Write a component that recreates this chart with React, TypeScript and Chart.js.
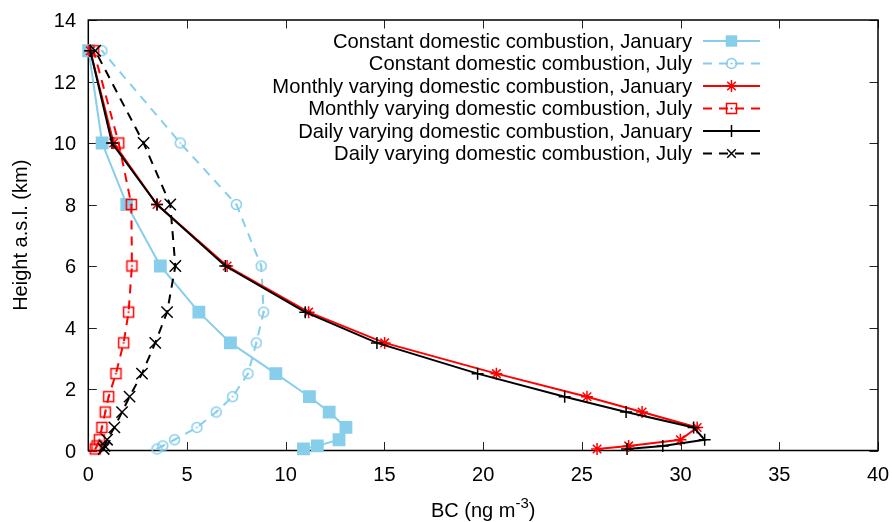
import React, { useEffect, useRef } from 'react';
import { Chart, registerables } from 'chart.js';

Chart.register(...registerables);

// ---- data ----
const heights = [0.05, 0.15, 0.35, 0.75, 1.25, 1.75, 2.5, 3.5, 4.5, 6, 8, 10, 13];
const constantJanuary = [10.9, 11.6, 12.7, 13.05, 12.2, 11.2, 9.5, 7.2, 5.6, 3.65, 1.95, 0.7, 0.02];
const constantJuly = [3.48, 3.77, 4.37, 5.5, 6.48, 7.31, 8.09, 8.51, 8.88, 8.76, 7.5, 4.66, 0.69];
const monthlyJanuary = [25.77, 27.37, 29.99, 30.84, 28.05, 25.26, 20.67, 15.01, 11.16, 7.03, 3.48, 1.28, 0.1];
const monthlyJuly = [0.35, 0.44, 0.56, 0.69, 0.86, 1.03, 1.4, 1.79, 2.04, 2.21, 2.18, 1.54, 0.27];
const dailyJanuary = [27.29, 29.1, 31.22, 30.66, 27.24, 24.13, 19.72, 14.62, 10.99, 6.94, 3.48, 1.2, 0.1];
const dailyJuly = [0.78, 0.83, 0.95, 1.32, 1.71, 2.09, 2.72, 3.39, 3.99, 4.41, 4.15, 2.8, 0.35];

const seriesLabels = [
  'Constant domestic combustion, January',
  'Constant domestic combustion, July',
  'Monthly varying domestic combustion, January',
  'Monthly varying domestic combustion, July',
  'Daily varying domestic combustion, January',
  'Daily varying domestic combustion, July',
];

const xTickValues = [0, 5, 10, 15, 20, 25, 30, 35, 40];
const yTickValues = [0, 2, 4, 6, 8, 10, 12, 14];
const xTitle = 'BC (ng m';
const xTitleSup = '-3';
const xTitleEnd = ')';
const yTitle = 'Height a.s.l. (km)';

// ---- styles ----
const FONT = '"Liberation Sans", Arial, Helvetica, sans-serif';
const SKY = '#87CEEB';
const RED = '#FF0000';
const BLACK = '#000000';
const DASH = [9, 7];

function makeMarker(kind: string, color: string): HTMLCanvasElement {
  const c = document.createElement('canvas');
  c.width = 15;
  c.height = 15;
  const g = c.getContext('2d')!;
  g.strokeStyle = color;
  g.fillStyle = color;
  g.lineWidth = 1.5;
  if (kind === 'circleDot') {
    g.beginPath();
    g.arc(7.5, 7.5, 5, 0, Math.PI * 2);
    g.stroke();
  } else {
    g.strokeRect(2.5, 2.5, 10, 10);
  }
  g.beginPath();
  g.arc(7.5, 7.5, 1.1, 0, Math.PI * 2);
  g.fill();
  return c;
}

type Ser = { data: number[]; color: string; dashed: boolean; style: string };

function buildPoints(xs: number[]) {
  return xs.map((x, i) => ({ x, y: heights[i] }));
}

function drawLegendMarker(ctx: CanvasRenderingContext2D, s: Ser, x: number, y: number, img: HTMLCanvasElement | null) {
  ctx.save();
  ctx.setLineDash([]);
  ctx.strokeStyle = s.color;
  ctx.fillStyle = s.color;
  ctx.lineWidth = 1.5;
  if (img) {
    ctx.drawImage(img, x - img.width / 2, y - img.height / 2);
  } else if (s.style === 'rect') {
    ctx.fillRect(x - 5.7, y - 5.7, 11.4, 11.4);
  } else {
    const r = 6;
    ctx.beginPath();
    if (s.style === 'cross' || s.style === 'star') {
      ctx.moveTo(x - r, y); ctx.lineTo(x + r, y);
      ctx.moveTo(x, y - r); ctx.lineTo(x, y + r);
    }
    if (s.style === 'crossRot' || s.style === 'star') {
      const d = r * Math.SQRT1_2;
      ctx.moveTo(x - d, y - d); ctx.lineTo(x + d, y + d);
      ctx.moveTo(x - d, y + d); ctx.lineTo(x + d, y - d);
    }
    ctx.stroke();
  }
  ctx.restore();
}

export default function App() {
  const ref = useRef<HTMLCanvasElement | null>(null);

  useEffect(() => {
    if (!ref.current) return;
    const circleDot = makeMarker('circleDot', SKY);
    const squareDot = makeMarker('squareDot', RED);

    const series: Ser[] = [
      { data: constantJanuary, color: SKY, dashed: false, style: 'rect' },
      { data: constantJuly, color: SKY, dashed: true, style: 'circleDot' },
      { data: monthlyJanuary, color: RED, dashed: false, style: 'star' },
      { data: monthlyJuly, color: RED, dashed: true, style: 'squareDot' },
      { data: dailyJanuary, color: BLACK, dashed: false, style: 'cross' },
      { data: dailyJuly, color: BLACK, dashed: true, style: 'crossRot' },
    ];
    const imgFor = (s: Ser) => (s.style === 'circleDot' ? circleDot : s.style === 'squareDot' ? squareDot : null);

    const datasets = series.map((s, i) => {
      const img = imgFor(s);
      return {
        label: seriesLabels[i],
        data: buildPoints(s.data),
        showLine: true,
        borderColor: s.color,
        backgroundColor: s.color,
        borderWidth: 2,
        borderDash: s.dashed ? DASH : [],
        pointStyle: (img || s.style) as any,
        pointRadius: s.style === 'rect' ? 8 : s.style === 'crossRot' ? 8 : 6,
        pointBorderWidth: 1.5,
        pointBorderColor: s.color,
        pointBackgroundColor: s.color,
        tension: 0,
        clip: false as any,
        order: 5 - i,
      };
    });

    const framePlugin = {
      id: 'frame',
      beforeDatasetsDraw(chart: any) {
        const { ctx, chartArea: a, scales } = chart;
        ctx.save();
        ctx.strokeStyle = '#222';
        ctx.lineWidth = 1;
        const tl = 8.5;
        ctx.beginPath();
        for (const v of xTickValues) {
          const px = Math.round(scales.x.getPixelForValue(v)) + 0.5;
          ctx.moveTo(px, a.bottom); ctx.lineTo(px, a.bottom - tl);
          ctx.moveTo(px, a.top); ctx.lineTo(px, a.top + tl);
        }
        for (const v of yTickValues) {
          const py = Math.round(scales.y.getPixelForValue(v)) + 0.5;
          ctx.moveTo(a.left, py); ctx.lineTo(a.left + tl, py);
          ctx.moveTo(a.right, py); ctx.lineTo(a.right - tl, py);
        }
        ctx.stroke();
        ctx.strokeStyle = '#000';
        ctx.lineWidth = 1.5;
        ctx.strokeRect(a.left, a.top, a.right - a.left, a.bottom - a.top);
        ctx.restore();
      },
      afterDraw(chart: any) {
        const { ctx, chartArea: a, scales } = chart;
        ctx.save();
        ctx.fillStyle = '#000';
        ctx.font = `20px ${FONT}`;
        ctx.textBaseline = 'alphabetic';
        // tick labels
        ctx.textAlign = 'center';
        for (const v of xTickValues) {
          ctx.fillText(String(v), scales.x.getPixelForValue(v), a.bottom + 30.3);
        }
        ctx.textAlign = 'right';
        for (const v of yTickValues) {
          ctx.fillText(String(v), a.left - 12.3, scales.y.getPixelForValue(v) + 7.3);
        }
        // x title with superscript
        ctx.textAlign = 'left';
        const w1 = ctx.measureText(xTitle).width;
        const w3 = ctx.measureText(xTitleEnd).width;
        ctx.font = `15px ${FONT}`;
        const w2 = ctx.measureText(xTitleSup).width;
        const total = w1 + w2 + w3;
        const x0 = (a.left + a.right) / 2 - total / 2;
        const base = 517;
        ctx.font = `20px ${FONT}`;
        ctx.fillText(xTitle, x0, base);
        ctx.font = `15px ${FONT}`;
        ctx.fillText(xTitleSup, x0 + w1, base - 9);
        ctx.font = `20px ${FONT}`;
        ctx.fillText(xTitleEnd, x0 + w1 + w2, base);
        // y title
        ctx.save();
        ctx.translate(21, (a.top + a.bottom) / 2);
        ctx.rotate(-Math.PI / 2);
        ctx.textAlign = 'center';
        ctx.textBaseline = 'middle';
        ctx.fillText(yTitle, 0, 0);
        ctx.restore();
        // legend
        ctx.font = `20.2px ${FONT}`;
        ctx.textAlign = 'right';
        ctx.textBaseline = 'middle';
        series.forEach((s, i) => {
          const y = 41 + i * 22.5;
          ctx.fillStyle = '#000';
          ctx.fillText(seriesLabels[i], 692, y + 1);
          ctx.save();
          ctx.strokeStyle = s.color;
          ctx.lineWidth = 2;
          ctx.setLineDash(s.dashed ? DASH : []);
          ctx.beginPath();
          ctx.moveTo(703, y);
          ctx.lineTo(760, y);
          ctx.stroke();
          ctx.restore();
          drawLegendMarker(ctx, s, 731.5, y, imgFor(s));
        });
        ctx.restore();
      },
    };

    const chart = new Chart(ref.current, {
      type: 'scatter',
      data: { datasets: datasets as any },
      options: {
        responsive: false,
        animation: false,
        events: [],
        layout: { padding: { top: 20, right: 14, left: 0, bottom: 0 } },
        plugins: { legend: { display: false }, tooltip: { enabled: false }, title: { display: false } },
        scales: {
          x: {
            type: 'linear',
            min: 0,
            max: 40,
            afterFit: (s: any) => { s.height = 522 - 450.5; },
            afterBuildTicks: (s: any) => { s.ticks = xTickValues.map((v) => ({ value: v })); },
            grid: { display: false, drawTicks: false },
            border: { display: false },
            ticks: { display: false },
          },
          y: {
            type: 'linear',
            min: 0,
            max: 14,
            afterFit: (s: any) => { s.width = 88.3; },
            afterBuildTicks: (s: any) => { s.ticks = yTickValues.map((v) => ({ value: v })); },
            grid: { display: false, drawTicks: false },
            border: { display: false },
            ticks: { display: false },
          },
        },
      },
      plugins: [framePlugin],
    });
    return () => chart.destroy();
  }, []);

  return (
    <div style={{ position: 'absolute', left: 0, top: 0, width: 892, height: 522, background: '#fff' }}>
      <canvas ref={ref} width={892} height={522} style={{ display: 'block', width: 892, height: 522 }} />
    </div>
  );
}
